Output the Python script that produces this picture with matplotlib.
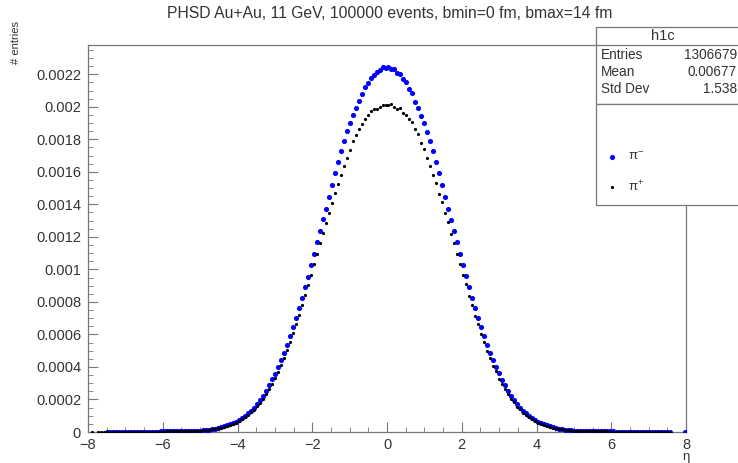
import numpy as np
import matplotlib
matplotlib.use("Agg")
import matplotlib.pyplot as plt
from matplotlib.patches import Rectangle
from matplotlib.lines import Line2D
from matplotlib.ticker import MultipleLocator

plt.rcParams['font.family'] = ['Liberation Sans', 'DejaVu Sans']
plt.rcParams['mathtext.fontset'] = 'custom'
plt.rcParams['mathtext.rm'] = 'Liberation Sans'

# eta bins: 200 bins of width 0.08 between -8 and 8
edges = np.linspace(-8, 8, 201)
eta = 0.5 * (edges[:-1] + edges[1:])

nan = np.nan
# pi- distribution, in units of 1e-4, eta < 0 then eta > 0
pim_neg = [
    nan, nan, nan, nan, nan, nan, 0.011, 0.012, 0.012, 0.013,
    0.014, 0.015, 0.016, 0.017, 0.018, 0.019, 0.020, 0.021, 0.022, 0.023,
    0.025, 0.026, 0.028, 0.030, 0.032, 0.034, 0.036, 0.038, 0.041, 0.044,
    0.048, 0.052, 0.057, 0.062, 0.068, 0.074, 0.082, 0.092, 0.105, 0.125,
    0.15, 0.18, 0.21, 0.25, 0.29, 0.34, 0.40, 0.47, 0.55, 0.64,
    0.76, 0.87, 1.00, 1.15, 1.31, 1.50, 1.73, 1.97, 2.22, 2.52,
    2.88, 3.24, 3.58, 3.98, 4.42, 4.84, 5.38, 5.88, 6.48, 7.00,
    7.64, 8.24, 8.92, 9.56, 10.30, 10.94, 11.70, 12.36, 13.08, 13.72,
    14.48, 15.16, 15.92, 16.58, 17.30, 17.90, 18.50, 18.98, 19.48, 19.90,
    20.38, 20.78, 21.20, 21.44, 21.76, 21.96, 22.14, 22.28, 22.44, 22.38,
]
pim_pos = [
    22.42, 22.30, 22.34, 22.10, 22.02, 21.70, 21.50, 21.12, 20.84, 20.30,
    19.92, 19.46, 19.00, 18.48, 17.92, 17.28, 16.60, 15.90, 15.18, 14.46,
    13.74, 13.06, 12.38, 11.68, 10.96, 10.28, 9.58, 8.90, 8.26, 7.62,
    7.02, 6.46, 5.90, 5.36, 4.86, 4.40, 4.00, 3.60, 3.22, 2.86,
    2.54, 2.24, 1.96, 1.72, 1.50, 1.30, 1.14, 0.99, 0.86, 0.75,
    0.64, 0.55, 0.47, 0.40, 0.34, 0.29, 0.25, 0.21, 0.18, 0.15,
    0.125, 0.105, 0.092, 0.082, 0.074, 0.068, 0.062, 0.057, 0.052, 0.048,
    0.044, 0.041, 0.038, 0.036, 0.034, 0.032, 0.030, 0.028, 0.026, 0.025,
    0.023, 0.022, 0.021, 0.020, 0.019, 0.018, 0.017, 0.016, 0.015, 0.014,
    0.013, 0.013, 0.012, 0.011, 0.010, nan, nan, nan, nan, 0.02,
]

# pi+ distribution, in units of 1e-4
pip_neg = [
    nan, 0.010, nan, 0.010, 0.009, 0.009, 0.010, 0.011, 0.011, 0.012,
    0.013, 0.013, 0.014, 0.015, 0.016, 0.017, 0.018, 0.019, 0.020, 0.021,
    0.022, 0.023, 0.025, 0.026, 0.028, 0.030, 0.032, 0.034, 0.036, 0.039,
    0.042, 0.046, 0.050, 0.055, 0.060, 0.067, 0.074, 0.084, 0.097, 0.115,
    0.135, 0.16, 0.19, 0.22, 0.26, 0.31, 0.37, 0.43, 0.50, 0.58,
    0.68, 0.79, 0.91, 1.04, 1.20, 1.38, 1.58, 1.81, 2.06, 2.34,
    2.64, 2.96, 3.32, 3.70, 4.10, 4.54, 5.02, 5.52, 6.06, 6.62,
    7.18, 7.78, 8.40, 9.04, 9.68, 10.32, 10.96, 11.60, 12.24, 12.88,
    13.48, 14.08, 14.68, 15.26, 15.82, 16.34, 16.86, 17.36, 17.90, 18.26,
    18.66, 18.94, 19.26, 19.48, 19.74, 19.84, 19.88, 20.00, 20.14, 20.10,
]
pip_pos = [
    20.08, 20.16, 20.00, 19.86, 19.94, 19.64, 19.50, 19.22, 19.04, 18.62,
    18.30, 17.78, 17.40, 16.82, 16.38, 15.78, 15.30, 14.64, 14.12, 13.44,
    12.92, 12.20, 11.64, 10.92, 10.36, 9.64, 9.08, 8.36, 7.82, 7.14,
    6.66, 6.02, 5.56, 4.98, 4.58, 4.06, 3.74, 3.28, 2.98, 2.62,
    2.36, 2.04, 1.83, 1.56, 1.40, 1.18, 1.05, 0.90, 0.80, 0.67,
    0.58, 0.50, 0.43, 0.37, 0.31, 0.26, 0.22, 0.19, 0.16, 0.135,
    0.115, 0.097, 0.084, 0.074, 0.067, 0.060, 0.055, 0.050, 0.046, 0.042,
    0.039, 0.036, 0.034, 0.032, 0.030, 0.028, 0.026, 0.025, 0.023, 0.022,
    0.021, 0.020, 0.019, 0.018, 0.017, 0.016, 0.015, 0.014, 0.013, 0.013,
    0.012, 0.011, 0.011, 0.010, 0.009, nan, nan, nan, nan, nan,
]

pim = np.array(pim_neg + pim_pos) * 1e-4
pip = np.array(pip_neg + pip_pos) * 1e-4

stat_names = ["Entries", "Mean", "Std Dev"]
stat_values = ["1306679", "0.00677", "1.538"]
legend_labels = ["π$^{-}$", "π$^{+}$"]

W, H = 738, 463
fig = plt.figure(figsize=(W / 100, H / 100), dpi=100)
ax = fig.add_axes([88 / W, 1 - 432 / H, (686 - 88) / W, (432 - 45) / H])

ax.plot(eta, pim, 'o', color='blue', ms=3.7, mec='none', zorder=3)
ax.plot(eta, pip, 'o', color='black', ms=2.3, mec='none', zorder=4)

ax.set_xlim(-8, 8)
ax.set_ylim(0, 0.00238)
ax.xaxis.set_major_locator(MultipleLocator(2))
ax.xaxis.set_minor_locator(MultipleLocator(0.5))
ax.yaxis.set_major_locator(MultipleLocator(0.0002))
ax.yaxis.set_minor_locator(MultipleLocator(0.00005))
ax.yaxis.set_major_formatter(plt.FuncFormatter(lambda v, p: f"{v:.4f}".rstrip('0').rstrip('.') if v else "0"))

for s in ax.spines.values():
    s.set_color('#777777')
    s.set_linewidth(0.9)
ax.tick_params(which='both', direction='in', color='#777777', labelcolor='#333333',
               labelsize=10.5, top=False, right=False)
ax.tick_params(which='major', length=7)
ax.tick_params(which='minor', length=3.5)
ax.tick_params(axis='x', pad=4.5)
ax.tick_params(axis='y', pad=5)

fig.text(0.528, 1 - 13 / H, "PHSD Au+Au, 11 GeV, 100000 events, bmin=0 fm, bmax=14 fm",
         ha='center', va='center', fontsize=11.3, color='#333333')
fig.text(686 / W, 1 - 457 / H, "η", ha='center', va='center', fontsize=9.5, color='#333333')
fig.text(16 / W, 1 - 64 / H, "# entries", rotation=90, ha='center', va='bottom',
         fontsize=8, color='#333333')

# stats box
box_kw = dict(transform=fig.transFigure, facecolor='white', edgecolor='#777777',
              lw=0.9, clip_on=False, zorder=5)
fig.add_artist(Rectangle((596 / W, 1 - 104 / H), 160 / W, 77 / H, **box_kw))
fig.add_artist(Line2D([596 / W, 1.0], [1 - 45 / H, 1 - 45 / H], transform=fig.transFigure,
                      color='#777777', lw=0.9, zorder=6))
fig.text(663 / W, 1 - 36 / H, "h1c", ha='center', va='center', fontsize=10.5,
         color='#333333', zorder=7)
for i, (n, v) in enumerate(zip(stat_names, stat_values)):
    y = 1 - (55 + 17 * i) / H
    fig.text(601 / W, y, n, ha='left', va='center', fontsize=9.8, color='#333333', zorder=7)
    fig.text(737 / W, y, v, ha='right', va='center', fontsize=9.8, color='#333333', zorder=7)

# legend box
fig.add_artist(Rectangle((596 / W, 1 - 205 / H), 160 / W, 101 / H, **box_kw))
fig.add_artist(Line2D([612 / W], [1 - 157 / H], transform=fig.transFigure, marker='o',
                      color='blue', ms=3.7, mec='none', zorder=7))
fig.add_artist(Line2D([612 / W], [1 - 187 / H], transform=fig.transFigure, marker='o',
                      color='black', ms=2.3, mec='none', zorder=7))
for yy, lab in zip([157, 187], legend_labels):
    fig.text(628 / W, 1 - yy / H, lab, ha='left', va='center', fontsize=9.5,
             color='#333333', zorder=7)

fig.savefig("out.png", dpi=100)
